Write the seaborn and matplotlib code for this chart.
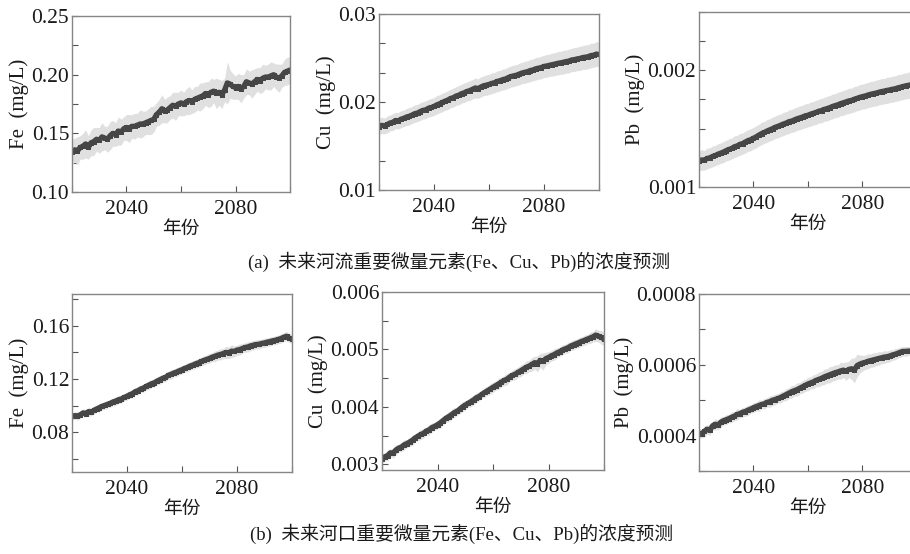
import numpy as np
import seaborn as sns
import matplotlib
matplotlib.use("Agg")
import matplotlib.pyplot as plt
from matplotlib.ticker import MultipleLocator, FormatStrFormatter

# years of the projection
years = list(range(2020, 2101))

# (a) river: mean prediction and half-width of the grey band
river_fe = [.134, .136, .135, .138, .139, .141, .138, .142, .143, .145,
            .144, .147, .146, .145, .148, .150, .149, .152, .151, .154,
            .155, .154, .156, .156, .157, .158, .158, .159, .160, .161,
            .162, .166, .168, .171, .169, .170, .172, .174, .173, .175,
            .176, .175, .177, .178, .177, .179, .180, .181, .182, .184,
            .183, .185, .186, .184, .185, .183, .187, .193, .192, .190,
            .189, .190, .188, .190, .194, .193, .192, .194, .196, .195,
            .197, .198, .198, .199, .200, .198, .197, .199, .202, .203, .204]
river_fe_sd = [.011, .010, .012, .010, .011, .012, .010, .011, .012, .010,
               .011, .012, .010, .011, .012, .011, .010, .012, .011, .010,
               .011, .012, .010, .011, .010, .012, .011, .010, .011, .012,
               .011, .010, .011, .012, .010, .011, .010, .011, .012, .010,
               .011, .010, .011, .012, .010, .011, .010, .012, .011, .010,
               .011, .012, .010, .013, .011, .012, .010, .018, .012, .011,
               .010, .011, .012, .010, .011, .010, .012, .011, .010, .011,
               .012, .010, .011, .012, .010, .011, .012, .010, .011, .012, .011]

river_cu = [.01720, .01735, .01728, .01745, .01762, .01770, .01790, .01786, .01805, .01815,
            .01830, .01838, .01852, .01868, .01875, .01892, .01905, .01912, .01930, .01938,
            .01950, .01968, .01980, .01995, .02010, .02022, .02040, .02050, .02068, .02078,
            .02095, .02105, .02120, .02130, .02145, .02160, .02152, .02170, .02185, .02192,
            .02200, .02212, .02220, .02235, .02242, .02255, .02262, .02278, .02290, .02298,
            .02305, .02318, .02330, .02338, .02345, .02358, .02365, .02378, .02385, .02392,
            .02405, .02410, .02418, .02425, .02432, .02440, .02445, .02452, .02460, .02465,
            .02478, .02482, .02490, .02495, .02505, .02510, .02515, .02528, .02532, .02545, .02540]
river_cu_sd = [.00090, .00093, .00089, .00094, .00091, .00095, .00091, .00094, .00096, .00093,
               .00096, .00099, .00095, .00100, .00097, .00101, .00098, .00102, .00099, .00103,
               .00101, .00105, .00102, .00106, .00103, .00107, .00104, .00108, .00106, .00110,
               .00107, .00111, .00108, .00112, .00110, .00114, .00111, .00115, .00112, .00116,
               .00114, .00118, .00115, .00119, .00116, .00120, .00118, .00122, .00119, .00123,
               .00120, .00124, .00121, .00125, .00123, .00127, .00124, .00128, .00125, .00129,
               .00126, .00130, .00127, .00131, .00129, .00133, .00130, .00134, .00131, .00135,
               .00132, .00136, .00133, .00137, .00135, .00139, .00136, .00140, .00137, .00141, .00139]

river_pb = [.001225, .001232, .001228, .001245, .001250, .001262, .001270, .001282, .001290, .001300,
            .001312, .001322, .001330, .001345, .001352, .001365, .001372, .001385, .001398, .001405,
            .001418, .001430, .001445, .001458, .001468, .001480, .001490, .001500, .001512, .001520,
            .001530, .001540, .001548, .001560, .001565, .001575, .001585, .001592, .001600, .001610,
            .001615, .001625, .001632, .001640, .001650, .001655, .001665, .001672, .001680, .001690,
            .001698, .001705, .001715, .001722, .001730, .001738, .001742, .001752, .001760, .001768,
            .001775, .001780, .001788, .001795, .001800, .001805, .001812, .001818, .001822, .001828,
            .001832, .001838, .001842, .001850, .001855, .001862, .001868, .001872, .001878, .001885, .001890]
river_pb_sd = [.000085, .000088, .000084, .000089, .000086, .000090, .000086, .000089, .000087, .000091,
               .000088, .000092, .000089, .000093, .000090, .000094, .000091, .000094, .000092, .000095,
               .000092, .000096, .000093, .000097, .000094, .000098, .000095, .000098, .000096, .000099,
               .000096, .000100, .000097, .000101, .000098, .000102, .000099, .000102, .000100, .000103,
               .000100, .000104, .000101, .000104, .000102, .000105, .000102, .000106, .000103, .000106,
               .000103, .000107, .000104, .000107, .000105, .000108, .000105, .000109, .000106, .000109,
               .000106, .000110, .000107, .000110, .000107, .000111, .000108, .000111, .000108, .000112,
               .000109, .000112, .000109, .000113, .000110, .000113, .000110, .000114, .000111, .000114, .000112]

# (b) estuary
est_fe = [.0918, .0925, .0922, .0930, .0945, .0940, .0955, .0950, .0965, .0975,
          .0985, .0995, .1002, .1010, .1018, .1028, .1035, .1045, .1050, .1062,
          .1070, .1082, .1090, .1105, .1112, .1125, .1132, .1145, .1155, .1165,
          .1172, .1185, .1195, .1205, .1212, .1228, .1235, .1245, .1252, .1262,
          .1270, .1280, .1288, .1298, .1305, .1315, .1322, .1332, .1340, .1348,
          .1355, .1365, .1372, .1380, .1385, .1392, .1400, .1398, .1410, .1408,
          .1418, .1422, .1430, .1438, .1442, .1450, .1455, .1460, .1462, .1468,
          .1472, .1478, .1482, .1488, .1492, .1498, .1505, .1515, .1522, .1508, .1500]
est_fe_sd = [.0030, .0027, .0032, .0028, .0031, .0027, .0033, .0028, .0030, .0027,
             .0031, .0028, .0032, .0027, .0030, .0028, .0032, .0029, .0031, .0027,
             .0030, .0028, .0033, .0029, .0031, .0028, .0032, .0029, .0033, .0030,
             .0032, .0029, .0034, .0030, .0033, .0031, .0035, .0030, .0034, .0031,
             .0033, .0030, .0035, .0032, .0034, .0031, .0036, .0032, .0035, .0033,
             .0036, .0034, .0040, .0037, .0042, .0038, .0046, .0043, .0048, .0040,
             .0038, .0042, .0037, .0035, .0039, .0034, .0037, .0033, .0036, .0032,
             .0035, .0032, .0034, .0031, .0034, .0032, .0035, .0033, .0036, .0034, .0032]

est_cu = [.00310, .00313, .00315, .00320, .00319, .00325, .00328, .00330, .00334, .00336,
          .00339, .00342, .00346, .00349, .00352, .00354, .00358, .00360, .00364, .00366,
          .00369, .00372, .00376, .00380, .00383, .00386, .00390, .00392, .00396, .00400,
          .00403, .00406, .00409, .00412, .00416, .00418, .00422, .00425, .00428, .00431,
          .00434, .00437, .00440, .00443, .00446, .00448, .00452, .00455, .00457, .00460,
          .00463, .00466, .00469, .00471, .00474, .00477, .00475, .00481, .00479, .00484,
          .00486, .00489, .00491, .00494, .00496, .00499, .00501, .00503, .00506, .00508,
          .00510, .00512, .00514, .00516, .00518, .00520, .00522, .00525, .00523, .00521, .00518]
est_cu_sd = [.00008, .00007, .00009, .00007, .00008, .00009, .00007, .00008, .00009, .00007,
             .00008, .00009, .00007, .00008, .00009, .00008, .00007, .00009, .00008, .00007,
             .00008, .00009, .00008, .00007, .00009, .00008, .00009, .00007, .00008, .00009,
             .00008, .00007, .00009, .00008, .00009, .00008, .00007, .00009, .00008, .00009,
             .00009, .00008, .00010, .00008, .00009, .00010, .00008, .00009, .00010, .00009,
             .00010, .00009, .00011, .00010, .00012, .00011, .00014, .00012, .00015, .00011,
             .00010, .00009, .00010, .00009, .00008, .00009, .00008, .00009, .00008, .00009,
             .00008, .00009, .00008, .00009, .00008, .00010, .00009, .00011, .00010, .00012, .00011]

est_pb = [.000407, .000405, .000412, .000418, .000415, .000428, .000432, .000430, .000438, .000442,
          .000445, .000448, .000452, .000455, .000460, .000462, .000466, .000468, .000472, .000475,
          .000479, .000482, .000485, .000488, .000490, .000494, .000496, .000500, .000502, .000505,
          .000508, .000512, .000516, .000520, .000524, .000527, .000530, .000534, .000538, .000542,
          .000546, .000549, .000552, .000556, .000559, .000562, .000566, .000569, .000572, .000575,
          .000578, .000580, .000583, .000585, .000582, .000587, .000589, .000584, .000598, .000602,
          .000605, .000607, .000610, .000612, .000614, .000616, .000618, .000620, .000622, .000623,
          .000625, .000628, .000630, .000633, .000636, .000638, .000638, .000639, .000638, .000640, .000640]
est_pb_sd = [.000014, .000012, .000016, .000013, .000015, .000012, .000016, .000013, .000015, .000012,
             .000014, .000012, .000015, .000013, .000016, .000012, .000014, .000013, .000015, .000012,
             .000014, .000013, .000016, .000012, .000015, .000013, .000016, .000014, .000015, .000013,
             .000016, .000014, .000017, .000015, .000018, .000015, .000019, .000016, .000018, .000017,
             .000019, .000017, .000020, .000018, .000021, .000019, .000022, .000020, .000023, .000021,
             .000022, .000020, .000024, .000021, .000026, .000023, .000030, .000035, .000032, .000026,
             .000022, .000020, .000021, .000019, .000020, .000018, .000019, .000017, .000018, .000016,
             .000017, .000015, .000016, .000014, .000015, .000013, .000014, .000012, .000013, .000012, .000012]

captions = ["(a)  未来河流重要微量元素(Fe、Cu、Pb)的浓度预测",
            "(b)  未来河口重要微量元素(Fe、Cu、Pb)的浓度预测"]

sns.set_style("ticks")
fonts = ["Liberation Serif", "Noto Sans CJK SC"]
plt.rcParams["font.family"] = fonts

fig = plt.figure(figsize=(9.1, 5.54), dpi=100)

# element, mean, band, ylim, major step, minor step, label format, axes box
panels = [
    ("Fe", river_fe, river_fe_sd, (0.10, 0.25), 0.05, 0.025, "%.2f", [0.0791, 0.6534, 0.2396, 0.3177]),
    ("Cu", river_cu, river_cu_sd, (0.01, 0.03), 0.01, 0.01 / 3, "%.2f", [0.4165, 0.6570, 0.2418, 0.3177]),
    ("Pb", river_pb, river_pb_sd, (0.001, 0.0025), 0.001, 0.00025, "%.3f", [0.7681, 0.6625, 0.2396, 0.3159]),
    ("Fe", est_fe, est_fe_sd, (0.05, 0.184), 0.04, 0.02, "%.2f", [0.0791, 0.1480, 0.2418, 0.3213]),
    ("Cu", est_cu, est_cu_sd, (0.0029, 0.006), 0.001, 0.0005, "%.3f", [0.4198, 0.1516, 0.2440, 0.3213]),
    ("Pb", est_pb, est_pb_sd, (0.0003, 0.0008), 0.0002, 0.0001, "%.4f", [0.7681, 0.1498, 0.2396, 0.3195]),
]

for elem, mean, sd, ylim, major, minor, fmt, box in panels:
    assert len(mean) == len(years) and len(sd) == len(years)
    ax = fig.add_axes(box)
    m = np.array(mean)
    s = np.array(sd)
    ax.fill_between(years, m - s, m + s, color="#e0e0e0", linewidth=0)
    sns.lineplot(x=years, y=mean, ax=ax, color="#464646", linewidth=3.8,
                 marker="s", markersize=3.6, markeredgewidth=0)
    ax.set_xlim(2020, 2100)
    ax.set_ylim(*ylim)
    ax.xaxis.set_major_locator(MultipleLocator(40))
    ax.xaxis.set_minor_locator(MultipleLocator(20))
    ax.yaxis.set_major_locator(MultipleLocator(major))
    ax.yaxis.set_minor_locator(MultipleLocator(minor))
    ax.yaxis.set_major_formatter(FormatStrFormatter(fmt))
    ax.tick_params(which="both", direction="in", length=4, width=0.8,
                   color="#555555", labelsize=15.5, labelcolor="#1a1a1a")
    ax.tick_params(axis="x", pad=6)
    ax.tick_params(axis="y", pad=2)
    for sp in ax.spines.values():
        sp.set_color("#858585")
        sp.set_linewidth(1.0)
    ax.set_xlabel("年份", fontsize=13.5, labelpad=1, color="#1a1a1a")
    ax.set_ylabel(elem + "  (mg/L)", fontsize=15, labelpad=2, color="#1a1a1a")

fig.text(0.505, 1 - 262 / 554, captions[0], ha="center", va="center", fontsize=13.5, color="#1a1a1a")
fig.text(0.507, 1 - 534 / 554, captions[1], ha="center", va="center", fontsize=13.5, color="#1a1a1a")

fig.savefig("out.png", dpi=100)
